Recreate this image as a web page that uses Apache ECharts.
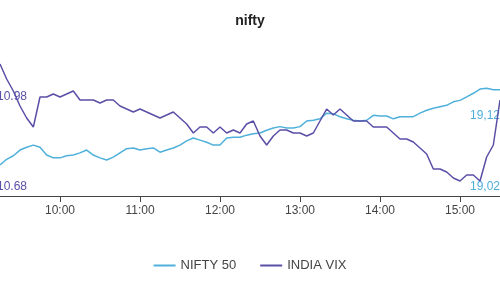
<!DOCTYPE html>
<html>
<head>
<meta charset="utf-8">
<script src="https://cdn.jsdelivr.net/npm/echarts@6/dist/echarts.min.js"></script>
<style>html,body{margin:0;padding:0;background:#fff;}#c{width:500px;height:300px;}</style>
</head>
<body>
<div id="c"></div>
<script>
var times = ["09:15","09:20","09:25","09:30","09:35","09:40","09:45","09:50","09:55",
"10:00","10:05","10:10","10:15","10:20","10:25","10:30","10:35","10:40","10:45","10:50","10:55",
"11:00","11:05","11:10","11:15","11:20","11:25","11:30","11:35","11:40","11:45","11:50","11:55",
"12:00","12:05","12:10","12:15","12:20","12:25","12:30","12:35","12:40","12:45","12:50","12:55",
"13:00","13:05","13:10","13:15","13:20","13:25","13:30","13:35","13:40","13:45","13:50","13:55",
"14:00","14:05","14:10","14:15","14:20","14:25","14:30","14:35","14:40","14:45","14:50","14:55",
"15:00","15:05","15:10","15:15","15:20","15:25","15:30"];

var nifty = [19051,19059,19064,19072,19076,19079,19076,19065,19061,
19061,19064,19065,19068,19072,19065,19061,19058,19062,19068,19074,19075,
19072,19074,19075,19069,19072,19075,19079,19085,19089,19086,19083,19079,
19079,19089,19090,19090,19093,19095,19096,19100,19103,19105,19103,19103,
19105,19113,19114,19116,19124,19123,19119,19116,19114,19113,19114,19121,
19120,19120,19116,19119,19119,19119,19124,19128,19131,19133,19135,19140,
19142,19147,19152,19158,19159,19157,19157];

var vix = [11.09,11.04,11.00,10.95,10.91,10.88,10.98,10.98,10.99,
10.98,10.99,11.00,10.97,10.97,10.97,10.96,10.97,10.97,10.95,10.94,10.93,
10.94,10.93,10.92,10.91,10.92,10.93,10.91,10.89,10.86,10.88,10.88,10.86,
10.88,10.86,10.87,10.86,10.89,10.90,10.85,10.82,10.85,10.87,10.87,10.86,
10.86,10.85,10.86,10.90,10.94,10.92,10.94,10.92,10.90,10.90,10.90,10.88,
10.88,10.88,10.86,10.84,10.84,10.83,10.81,10.79,10.74,10.74,10.73,10.71,
10.70,10.72,10.72,10.70,10.78,10.82,10.97];

var vixTicks = [10.68, 10.98];
var niftyTicks = [19020, 19120];

var blue = '#4fb0da';
var purple = '#5a4fa6';

var chart = echarts.init(document.getElementById('c'));
function isHour(idx, val){ return val.slice(3) === '00'; }
chart.setOption({
  animation: false,
  title: { text: 'nifty', left: 'center', top: 9, textStyle: { fontSize: 14, fontWeight: 'bold', color: '#222', fontFamily: 'Liberation Sans, Arial, sans-serif' } },
  legend: {
    bottom: 23, left: 'center', icon: 'rect', itemWidth: 22, itemHeight: 2, itemGap: 24,
    textStyle: { color: '#444', fontSize: 13, fontFamily: 'Liberation Sans, Arial, sans-serif' },
    data: ['NIFTY 50', 'INDIA VIX']
  },
  grid: { left: 0, right: 0, top: 55, bottom: 104, containLabel: false, outerBoundsMode: 'none' },
  xAxis: {
    type: 'category', data: times, boundaryGap: false,
    axisLine: { lineStyle: { color: '#444', width: 1 } },
    axisTick: { interval: isHour, length: 6, lineStyle: { color: '#444' } },
    axisLabel: { interval: isHour, color: '#444', fontSize: 12, margin: 9, fontFamily: 'Liberation Sans, Arial, sans-serif' },
    splitLine: { show: false }
  },
  yAxis: [
    { type: 'value', min: 10.65, max: 11.12, position: 'left',
      axisLine: { show: false }, axisTick: { show: false }, splitLine: { show: false },
      axisLabel: { inside: true, align: 'right', margin: 27, color: purple, fontSize: 12, customValues: vixTicks,
        formatter: function(v){ return v.toFixed(2); }, fontFamily: 'Liberation Sans, Arial, sans-serif' } },
    { type: 'value', min: 19007.3, max: 19205.9, position: 'right',
      axisLine: { show: false }, axisTick: { show: false }, splitLine: { show: false },
      axisLabel: { inside: true, align: 'left', margin: 30, color: blue, fontSize: 12, customValues: niftyTicks,
        formatter: function(v){ return Math.round(v).toLocaleString('en-US'); }, fontFamily: 'Liberation Sans, Arial, sans-serif' } }
  ],
  series: [
    { name: 'NIFTY 50', type: 'line', yAxisIndex: 1, data: nifty, showSymbol: false, color: blue, lineStyle: { width: 1.5, color: blue } },
    { name: 'INDIA VIX', type: 'line', yAxisIndex: 0, data: vix, showSymbol: false, color: purple, lineStyle: { width: 1.5, color: purple } }
  ]
});
</script>
</body>
</html>
